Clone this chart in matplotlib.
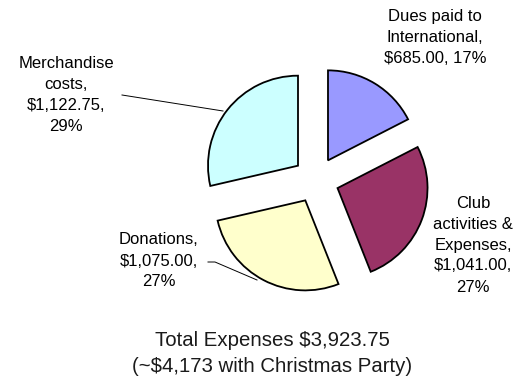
import matplotlib
matplotlib.use("Agg")
import matplotlib.pyplot as plt

# expense data
names = ["Dues paid to\nInternational", "Club\nactivities &\nExpenses",
         "Donations", "Merchandise\ncosts"]
amounts = [685.00, 1041.00, 1075.00, 1122.75]
colors = ["#9999FF", "#993366", "#FFFFCC", "#CCFFFF"]
title_lines = ["Total Expenses $3,923.75", "(~$4,173 with Christmas Party)"]

W, H = 523, 389
fig = plt.figure(figsize=(W / 100, H / 100), dpi=100)
ax = fig.add_axes([0, 0, 1, 1])

R = 90
cx, cy = 316, H - 180
# explode is in data units here (pixels)
wedges, _ = ax.pie(amounts, colors=colors, startangle=90, counterclock=False,
                   radius=R, center=(cx, cy), explode=[23] * 4,
                   wedgeprops=dict(edgecolor="black", linewidth=1.3),
                   frame=True)
ax.set_xlim(0, W)
ax.set_ylim(0, H)
ax.set_aspect("equal")
ax.axis("off")

total = sum(amounts)
labels = []
for n, a in zip(names, amounts):
    pct = round(a / total * 100)
    if n.startswith("Dues"):
        labels.append(f"{n},\n${a:,.2f}, {pct}%")
    else:
        labels.append(f"{n},\n${a:,.2f},\n{pct}%")

lab_font = dict(family=["Liberation Sans", "DejaVu Sans"], fontsize=12,
                ha="center", va="center", linespacing=1.5)
# label positions in pixels from top-left
lab_pos = [(435, 37), (473, 245), (159, 261), (66, 95)]
for txt, (x, y) in zip(labels, lab_pos):
    ax.text(x, H - y, txt, **lab_font)

# leader lines
ax.plot([122, 223], [H - 95, H - 111], color="black", lw=0.7)
ax.plot([208, 215, 257], [H - 262, H - 262, H - 280], color="black", lw=0.7)

ttl_font = dict(family=["Liberation Sans Narrow", "DejaVu Sans Condensed",
                        "Liberation Sans"],
                fontsize=14.7, ha="center", va="center", color="#1a1a1a")
ax.text(272, H - 340, title_lines[0], **ttl_font)
ax.text(272, H - 366, title_lines[1], **ttl_font)

fig.savefig("out.png", dpi=100)
